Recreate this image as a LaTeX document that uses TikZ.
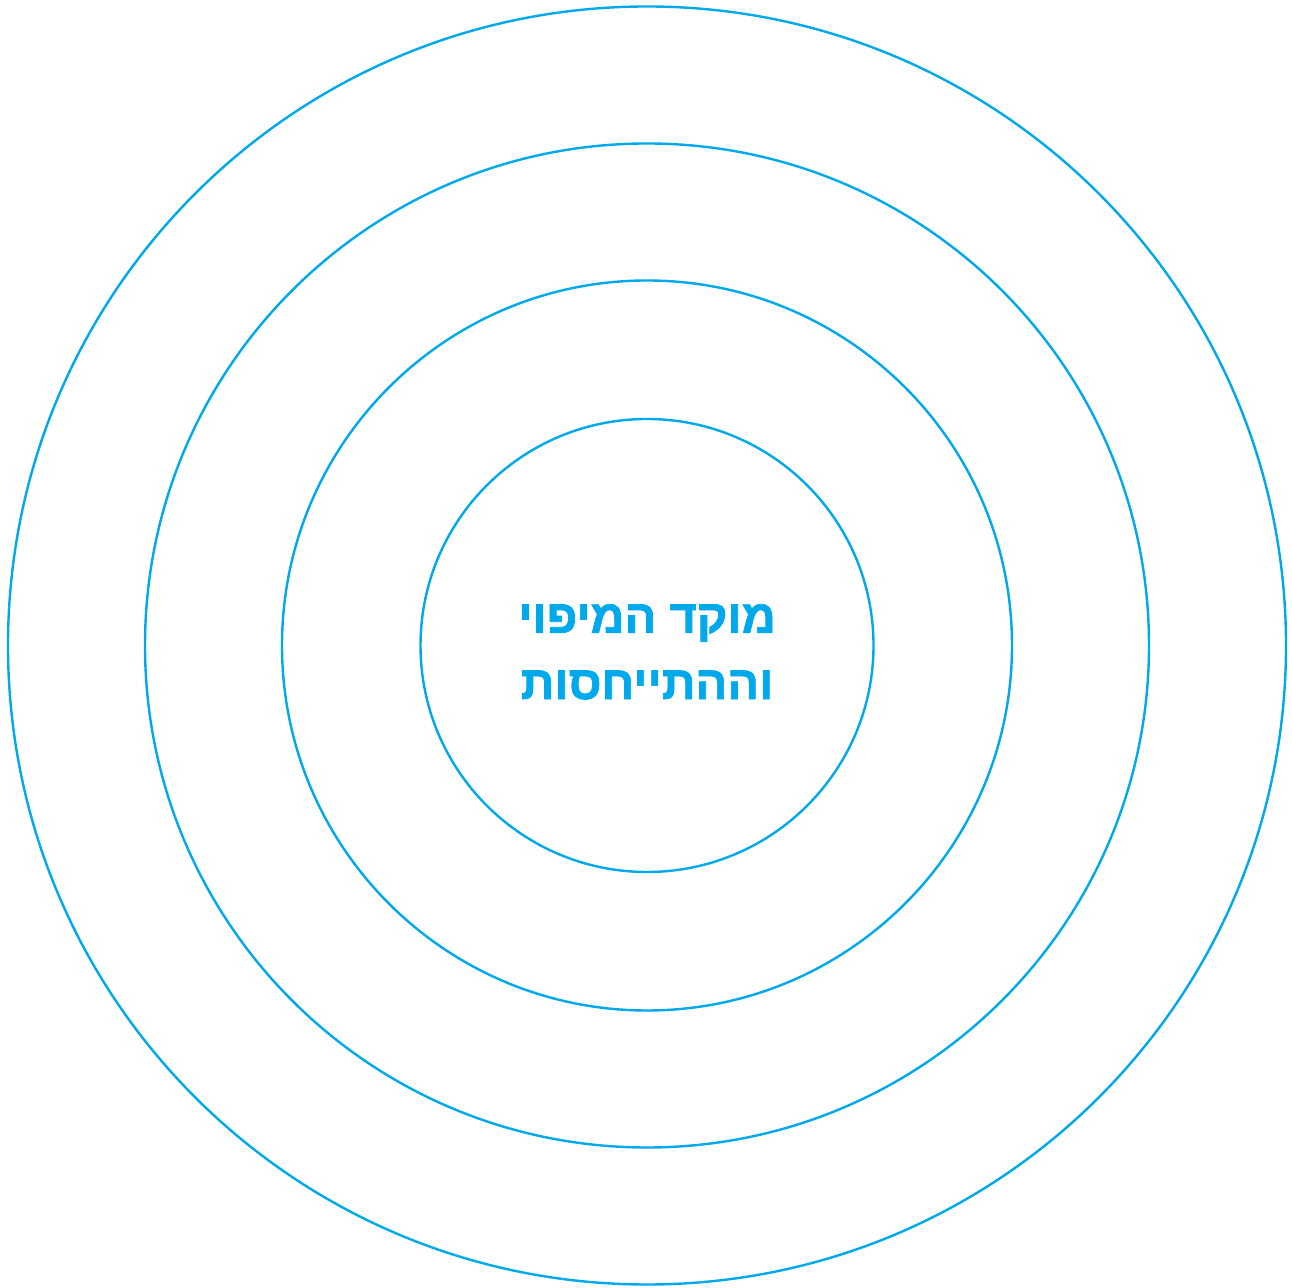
\documentclass[tikz,border=0pt]{standalone}
\usepackage{fontspec}
\TeXXeTstate=1
\newfontfamily\hebfont[Script=Hebrew,UprightFont={Liberation Sans Bold},FakeBold=1.5]{Liberation Sans}
\definecolor{ringblue}{HTML}{00A8EC}
\begin{document}
\begin{tikzpicture}[x=1pt,y=1pt,
  ring/.style={draw=ringblue,line width=2.4pt,circle,inner sep=0pt},
  lbl/.style={text=ringblue,font=\hebfont\fontsize{47}{63}\selectfont,align=center}]
\useasboundingbox (0,0) rectangle (1292,1287);
\coordinate (c) at (647,641.5);
\node[ring,minimum size=1278pt] (r1) at (c) {};
\node[ring,minimum size=1004pt] (r2) at (c) {};
\node[ring,minimum size=730pt] (r3) at (c) {};
\node[ring,minimum size=453pt] (r4) at (c) {};
\node[lbl] (t1) at (647,664) {\beginR מוקד המיפוי\endR};
\node[lbl] (t2) at (647,602) {\beginR וההתייחסות\endR};
\end{tikzpicture}
\end{document}
